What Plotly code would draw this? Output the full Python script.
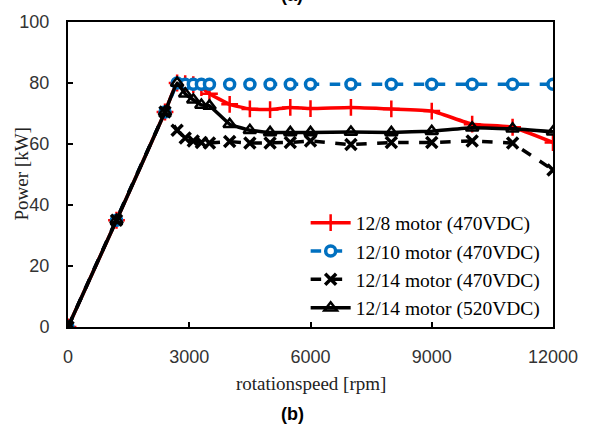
import plotly.graph_objects as go

# ---- data ----
rpm_common = [0, 1200, 2400, 2700, 2900, 3100, 3300, 3500, 4000, 4500, 5000, 5500,
              6000, 7000, 8000, 9000, 10000, 11000, 12000]

p_12_8_470 = [0, 35, 70.5, 80, 79.8, 79.5, 78.5, 76.5, 73, 71.5, 71.3, 72,
              71.6, 72, 71.5, 70.8, 66.5, 65.5, 60.5]
p_12_10_470 = [0, 35, 70.5, 80, 79.6, 79.6, 79.6, 79.6, 79.6, 79.6, 79.6, 79.6,
               79.6, 79.6, 79.6, 79.6, 79.6, 79.6, 79.6]
p_12_14_470 = [0, 35, 70.5, 64.5, 62, 61, 60.5, 60.3, 60.8, 60.3, 60.3, 60.5,
               61, 59.8, 60.5, 60.5, 61, 60.3, 51.5]
p_12_14_520 = [0, 35, 70.5, 80, 76.5, 74.5, 72.8, 72.5, 66.5, 64.5, 63.8, 63.8,
               63.8, 63.9, 63.8, 64.2, 65.3, 65, 64]

names = ["12/8 motor (470VDC)", "12/10 motor (470VDC)",
         "12/14 motor (470VDC)", "12/14 motor (520VDC)"]

x_ticks = [0, 3000, 6000, 9000, 12000]
y_ticks = [0, 20, 40, 60, 80, 100]

SERIF = "Liberation Serif"
SANS = "Liberation Sans"

fig = go.Figure()
fig.add_trace(go.Scatter(
    x=rpm_common, y=p_12_8_470, name=names[0], mode="lines+markers",
    line=dict(color="#FF0000", width=3.5, shape="spline", smoothing=0.4),
    marker=dict(symbol="cross-thin", size=12, line=dict(color="#FF0000", width=2.5)),
    legendgroup="a"))
fig.add_trace(go.Scatter(
    x=rpm_common, y=p_12_10_470, name=names[1], mode="lines+markers",
    line=dict(color="#0070C0", width=3.5, dash="dash"),
    marker=dict(symbol="circle", size=10, color="white", line=dict(color="#0070C0", width=3.5)),
    legendgroup="b"))
fig.add_trace(go.Scatter(
    x=rpm_common, y=p_12_14_470, name=names[2], mode="lines+markers",
    line=dict(color="black", width=3.5, dash="dash"),
    marker=dict(symbol="x-thin", size=11, line=dict(color="black", width=3.5)),
    legendgroup="c"))
fig.add_trace(go.Scatter(
    x=rpm_common, y=p_12_14_520, name=names[3], mode="lines+markers",
    line=dict(color="black", width=3.5, shape="spline", smoothing=0.3),
    marker=dict(symbol="triangle-up-open", size=11, line=dict(color="black", width=2.5)),
    legendgroup="d"))

fig.update_xaxes(range=[0, 12000], tickvals=x_ticks, ticktext=[str(v) for v in x_ticks],
                 showline=True, linecolor="black", linewidth=2, mirror=True,
                 ticks="inside", ticklen=5, tickwidth=1.5, tickcolor="black",
                 showgrid=False, zeroline=False,
                 tickfont=dict(family=SANS, size=18, color="#333333"),
                 ticklabelstandoff=12)
fig.update_yaxes(range=[0, 100], tickvals=y_ticks, ticktext=[str(v) for v in y_ticks],
                 showline=True, linecolor="black", linewidth=2, mirror=True,
                 ticks="inside", ticklen=5, tickwidth=1.5, tickcolor="black",
                 showgrid=False, zeroline=False,
                 tickfont=dict(family=SANS, size=18, color="#333333"),
                 ticklabelstandoff=13)

fig.update_layout(
    width=590, height=427,
    margin=dict(l=68, r=37, t=18, b=100),
    paper_bgcolor="white", plot_bgcolor="white",
    showlegend=True,
    legend=dict(x=0.49, y=0.405, xanchor="left", yanchor="top",
                bgcolor="rgba(255,255,255,0)",
                font=dict(family=SERIF, size=19.5, color="black"),
                traceorder="grouped", tracegroupgap=0, itemwidth=40),
    annotations=[
        dict(text="rotationspeed [rpm]", xref="paper", yref="paper", x=0.5, y=0,
             xanchor="center", yanchor="middle", yshift=-56, showarrow=False,
             font=dict(family=SERIF, size=19, color="#222222")),
        dict(text="Power [kW]", xref="paper", yref="paper", x=0, y=0.5,
             xanchor="center", yanchor="middle", xshift=-47, textangle=-90, showarrow=False,
             font=dict(family=SERIF, size=19, color="#222222")),
        dict(text="<b>(b)</b>", xref="paper", yref="paper", x=0.462, y=0,
             xanchor="center", yanchor="middle", yshift=-87, showarrow=False,
             font=dict(family=SANS, size=18, color="black")),
        dict(text="<b>(a)</b>", xref="paper", yref="paper", x=0.462, y=1,
             xanchor="center", yanchor="bottom", yshift=15, showarrow=False,
             font=dict(family=SANS, size=18, color="black")),
    ],
)

fig.write_html("out.html", config={"displayModeBar": False},
               post_script="document.body.style.margin='0';")
